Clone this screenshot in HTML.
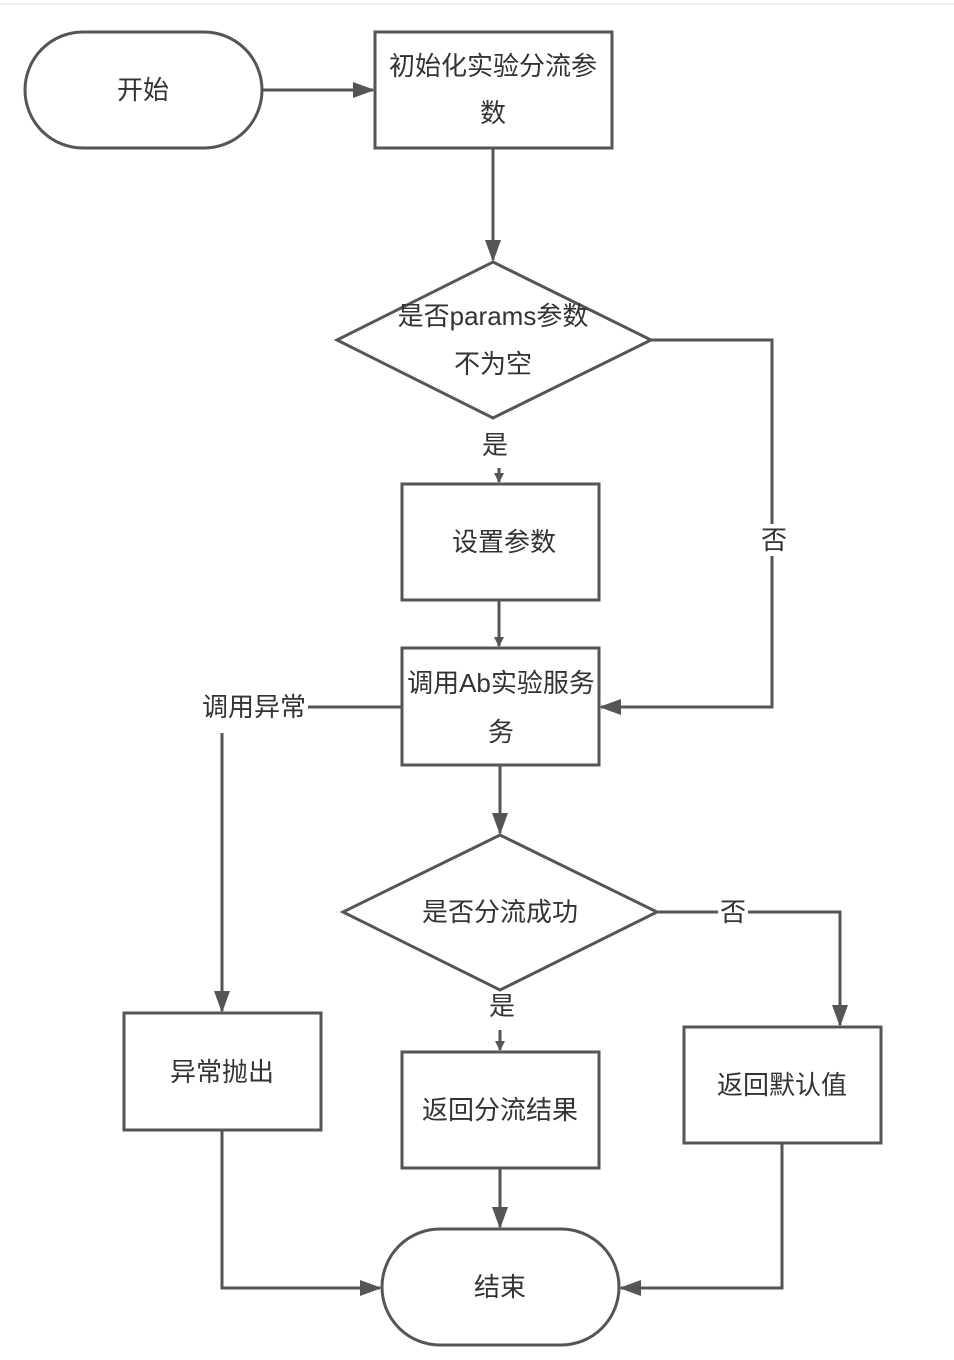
<!DOCTYPE html>
<html><head><meta charset="utf-8"><style>
html,body{margin:0;padding:0;background:#fff;width:954px;height:1360px;overflow:hidden}
text{font-family:"Liberation Sans","Noto Sans CJK SC",sans-serif;font-size:26px;fill:#333;text-anchor:middle;dominant-baseline:central}
</style></head><body>
<svg width="954" height="1360" xmlns="http://www.w3.org/2000/svg">
<defs><marker id="a" markerWidth="10" markerHeight="10" refX="9" refY="5" orient="auto" markerUnits="userSpaceOnUse"><path d="M0,0 L10,5 L0,10 z" fill="#555"/></marker>
<marker id="b" markerWidth="22" markerHeight="16" refX="20" refY="8" orient="auto" markerUnits="userSpaceOnUse"><path d="M0,0 L22,8 L0,16 z" fill="#555"/></marker></defs>
<line x1="0" y1="4" x2="954" y2="4" stroke="#eee" stroke-width="2"/>
<g fill="none" stroke="#555" stroke-width="3">
<rect x="25" y="32" width="237" height="116" rx="58"/>
<rect x="375" y="32" width="237" height="116"/>
<polygon points="493,262 651,340 493,418 337,340"/>
<rect x="402" y="484" width="197" height="116"/>
<rect x="402" y="648" width="197" height="117"/>
<polygon points="500,835 657,912 500,990 343,912"/>
<rect x="124" y="1013" width="197" height="117"/>
<rect x="402" y="1052" width="197" height="116"/>
<rect x="684" y="1027" width="197" height="116"/>
<rect x="382" y="1229" width="237" height="116" rx="58"/>
<line x1="262" y1="90" x2="373" y2="90" marker-end="url(#b)"/>
<line x1="493" y1="148" x2="493" y2="260" marker-end="url(#b)"/>
<polyline points="651,340 772,340 772,707 601,707" marker-end="url(#b)"/>
<line x1="499" y1="600" x2="499" y2="646" marker-end="url(#a)"/>
<line x1="402" y1="707" x2="308" y2="707"/>
<line x1="222" y1="733" x2="222" y2="1011" marker-end="url(#b)"/>
<line x1="500" y1="765" x2="500" y2="833" marker-end="url(#b)"/>
<line x1="500" y1="1030" x2="500" y2="1050" marker-end="url(#a)"/>
<polyline points="657,912 840,912 840,1025" marker-end="url(#b)"/>
<line x1="500" y1="1168" x2="500" y2="1227" marker-end="url(#b)"/>
<polyline points="222,1130 222,1288 380,1288" marker-end="url(#b)"/>
<polyline points="782,1143 782,1288 621,1288" marker-end="url(#b)"/>
<line x1="499" y1="468" x2="499" y2="482" marker-end="url(#a)"/>
</g>
<rect x="718" y="898" width="30" height="28" fill="#fff"/>
<rect x="760" y="524" width="26" height="32" fill="#fff"/>
<text x="143" y="90">开始</text>
<text x="493" y="66">初始化实验分流参</text>
<text x="493" y="113">数</text>
<text x="493" y="316">是否params参数</text>
<text x="493" y="364">不为空</text>
<text x="495" y="445">是</text>
<text x="774" y="540">否</text>
<text x="504" y="542">设置参数</text>
<text x="501" y="683">调用Ab实验服务</text>
<text x="501" y="732">务</text>
<text x="254" y="707">调用异常</text>
<text x="500" y="912">是否分流成功</text>
<text x="733" y="912">否</text>
<text x="502" y="1006">是</text>
<text x="222" y="1072">异常抛出</text>
<text x="500" y="1110">返回分流结果</text>
<text x="782" y="1085">返回默认值</text>
<text x="500" y="1287">结束</text>
</svg>
</body></html>
